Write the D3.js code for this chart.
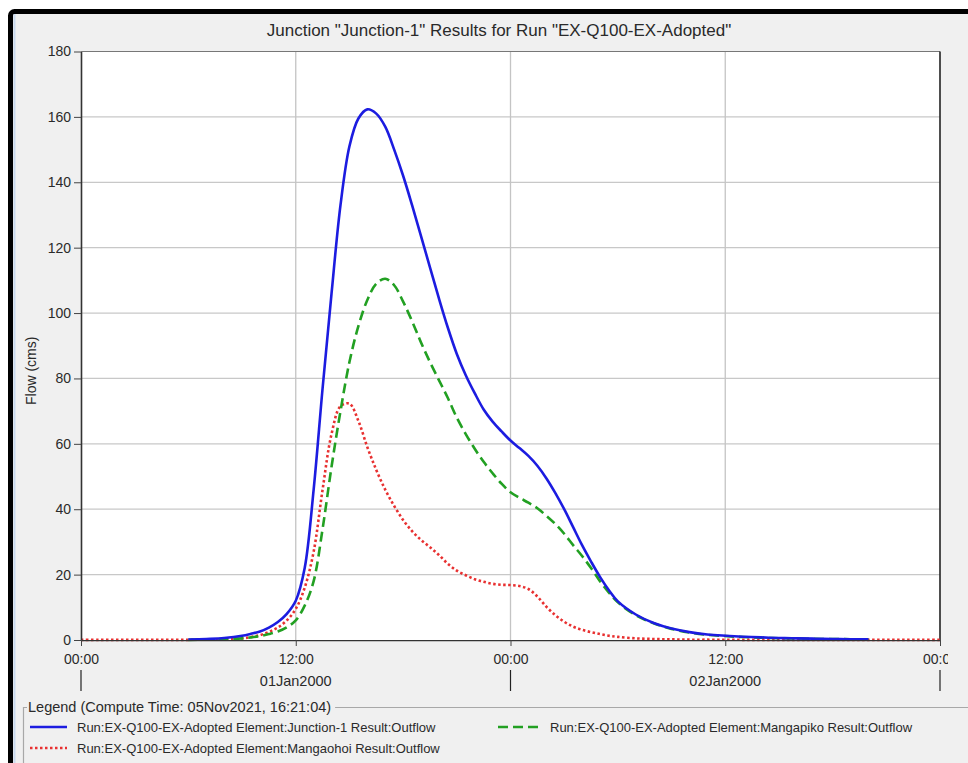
<!DOCTYPE html>
<html>
<head>
<meta charset="utf-8">
<script src="https://cdn.jsdelivr.net/npm/d3@7"></script>
<style>
  body { margin: 0; background: #ffffff; }
  text { font-family: "Liberation Sans", Arial, sans-serif; fill: #2a2a2a; }
</style>
</head>
<body>
<div id="chart"></div>
<script>
// time in hours from 01Jan2000 00:00
var hours = [0, 1, 2, 3, 4, 5, 6, 7, 8, 9,
    9.5, 10, 10.5, 11, 11.5, 12, 12.5, 13, 13.5, 14, 14.5, 15, 15.5, 16, 16.5, 17, 17.5, 18, 18.5, 19,
    19.5, 20, 20.5, 21, 21.5, 22, 22.5, 23, 23.5, 24, 24.5, 25, 25.5, 26, 26.5, 27, 27.5, 28, 28.5, 29, 29.5, 30,
    31, 32, 33, 34, 35, 36, 37, 38, 39, 40, 41, 42, 43, 44, 45, 46, 47, 48];

// Junction-1 outflow (cms)
var junctionFlow = [null, null, null, null, null, null, 0.1, 0.3, 0.6, 1.3,
    1.9, 2.6, 3.8, 5.5, 8, 12, 22, 46, 77, 106, 133, 151, 159.5, 162.3, 161, 157, 150, 142, 133, 123.5,
    114, 104.5, 95.5, 87.5, 81, 75.5, 70.5, 66.8, 63.8, 61, 58.7, 56.3, 53.3, 49.5, 45, 40, 34.5, 29, 24, 19.3, 15.2, 11.8,
    7.8, 5.2, 3.5, 2.4, 1.7, 1.3, 1.0, 0.8, 0.6, 0.5, 0.4, 0.3, 0.25, 0.2, null, null, null, null];

// Mangapiko outflow (cms)
var mangapikoFlow = [null, null, null, null, null, null, 0.05, 0.15, 0.3, 0.5,
    0.8, 1.2, 1.8, 2.6, 3.9, 6, 10.5, 18, 34, 53, 70, 85, 96, 104, 109, 110.5, 108.5, 103.5, 97.5, 91,
    85, 79.5, 74, 68, 63, 58.5, 54.5, 51, 47.8, 45.2, 43.5, 42, 40.3, 38, 35.5, 32.5, 29, 25.7, 22, 18, 14.5, 11.5,
    7.6, 5.1, 3.4, 2.3, 1.6, 1.2, 0.9, 0.7, 0.55, 0.45, 0.35, 0.3, 0.25, 0.2, null, null, null, null];

// Mangaohoi outflow (cms)
var mangaohoiFlow = [0.05, 0.05, 0.05, 0.05, 0.05, 0.05, 0.05, 0.1, 0.2, 0.5,
    0.9, 1.5, 2.5, 3.8, 6, 9.5, 16, 27, 46, 63, 71.5, 72.3, 67, 59, 52, 46, 41, 36.7, 33.3, 30.6,
    28.4, 26, 23.3, 21.2, 19.8, 18.6, 17.8, 17.2, 16.9, 16.8, 16.5, 15.6, 13.3, 10.2, 7.6, 5.6, 4.1, 3.1, 2.4, 1.8, 1.3, 0.95,
    0.5, 0.3, 0.2, 0.1, 0.1, 0.08, 0.05, 0.05, 0.05, 0.05, 0.05, 0.05, 0.05, 0.05, 0.05, 0.05, 0.05, 0.05];

var yTicks = [0, 20, 40, 60, 80, 100, 120, 140, 160, 180];
var xTicks = [0, 12, 24, 36, 48];
var xTickLabels = ["00:00", "12:00", "00:00", "12:00", "00:00"];
var dayCenters = [12, 36];
var dayLabels = ["01Jan2000", "02Jan2000"];
var daySeparators = [0, 24, 48];

var seriesNames = [
    "Run:EX-Q100-EX-Adopted Element:Junction-1 Result:Outflow",
    "Run:EX-Q100-EX-Adopted Element:Mangapiko Result:Outflow",
    "Run:EX-Q100-EX-Adopted Element:Mangaohoi Result:Outflow"
];

var W = 968, H = 763;
var plotLeft = 81, plotRight = 940, plotTop = 51.5, plotBottom = 640;

var svg = d3.select('#chart').append('svg')
    .attr('width', W)
    .attr('height', H);

// window frame
svg.append('rect')
    .attr('x', 10.5).attr('y', 11.5)
    .attr('width', 1000).attr('height', 800)
    .attr('rx', 4)
    .attr('fill', '#f0f0f0')
    .attr('stroke', '#000')
    .attr('stroke-width', 5);
svg.append('line')
    .attr('x1', 14.5).attr('x2', 14.5)
    .attr('y1', 14).attr('y2', H)
    .attr('stroke', '#c9d9ee')
    .attr('stroke-width', 2);

var x = d3.scaleLinear().domain([0, 48]).range([plotLeft, plotRight]);
var y = d3.scaleLinear().domain([0, 180]).range([plotBottom, plotTop]);

// plot background
svg.append('rect')
    .attr('x', plotLeft).attr('y', plotTop)
    .attr('width', plotRight - plotLeft).attr('height', plotBottom - plotTop)
    .attr('fill', '#fff');

// grid
svg.append('g').selectAll('line')
    .data(yTicks.slice(1, -1)).enter()
    .append('line')
    .attr('x1', plotLeft).attr('x2', plotRight)
    .attr('y1', function(d){ return y(d); })
    .attr('y2', function(d){ return y(d); })
    .attr('stroke', '#c8c8c8')
    .attr('stroke-width', 1.3);
svg.append('g').selectAll('line')
    .data(xTicks.slice(1, -1)).enter()
    .append('line')
    .attr('x1', function(d){ return x(d); })
    .attr('x2', function(d){ return x(d); })
    .attr('y1', plotTop).attr('y2', plotBottom)
    .attr('stroke', '#c4c4c4')
    .attr('stroke-width', 1.3);

// plot border
svg.append('line')
    .attr('x1', plotLeft).attr('x2', plotRight).attr('y1', plotTop).attr('y2', plotTop)
    .attr('stroke', '#777').attr('stroke-width', 1.2);
svg.append('line')
    .attr('x1', plotRight).attr('x2', plotRight).attr('y1', plotTop).attr('y2', plotBottom)
    .attr('stroke', '#222').attr('stroke-width', 1.6);

// lines
var points = function(values){
    var pts = [];
    for (var i = 0; i < hours.length; i++){
        pts.push([hours[i], values[i]]);
    }
    return pts;
};
var line = d3.line()
    .defined(function(d){ return d[1] !== null; })
    .x(function(d){ return x(d[0]); })
    .y(function(d){ return Math.min(y(d[1]), plotBottom); })
    .curve(d3.curveCatmullRom.alpha(0.5));

var styles = [
    {color: '#1c1ce0', dash: null},
    {color: '#22a022', dash: '10,5'},
    {color: '#e83030', dash: '2.5,2.5'}
];
var flows = [junctionFlow, mangapikoFlow, mangaohoiFlow];
var drawOrder = [2, 1, 0];

drawOrder.forEach(function(k){
    svg.append('path')
        .datum(points(flows[k]))
        .attr('d', line)
        .attr('fill', 'none')
        .attr('stroke', styles[k].color)
        .attr('stroke-width', 2.6)
        .attr('stroke-dasharray', styles[k].dash);
});

// axes
var yAxis = svg.append('g')
    .attr('transform', 'translate(' + plotLeft + ',0)')
    .call(d3.axisLeft(y).tickValues(yTicks).tickSize(7).tickPadding(3).tickSizeOuter(0));
yAxis.selectAll('text').style('font-size', '14px').attr('fill', '#333');

var xAxis = svg.append('g')
    .attr('transform', 'translate(0,' + plotBottom + ')')
    .call(d3.axisBottom(x).tickValues(xTicks).tickSize(6).tickPadding(8).tickSizeOuter(0)
        .tickFormat(function(d, i){ return xTickLabels[i]; }));
xAxis.selectAll('text').style('font-size', '14px').attr('fill', '#333');

svg.selectAll('.domain').attr('stroke', '#333').attr('stroke-width', 1.6);
svg.selectAll('.tick line').attr('stroke', '#444');

// clip last label like the window does
svg.append('defs').append('clipPath').attr('id', 'labelclip')
    .append('rect').attr('x', 0).attr('y', 0).attr('width', 948).attr('height', H);
xAxis.attr('clip-path', 'url(#labelclip)');

// day row
svg.append('g').selectAll('line')
    .data(daySeparators).enter()
    .append('line')
    .attr('x1', function(d){ return x(d); })
    .attr('x2', function(d){ return x(d); })
    .attr('y1', 670).attr('y2', 691)
    .attr('stroke', '#222')
    .attr('stroke-width', 1.2);
svg.append('g').selectAll('text')
    .data(dayLabels).enter()
    .append('text')
    .attr('x', function(d, i){ return x(dayCenters[i]); })
    .attr('y', 686)
    .attr('text-anchor', 'middle')
    .style('font-size', '14.5px')
    .text(function(d){ return d; });

// title
svg.append('text')
    .attr('x', 499).attr('y', 36)
    .attr('text-anchor', 'middle')
    .style('font-size', '17px')
    .text('Junction "Junction-1" Results for Run "EX-Q100-EX-Adopted"');

// y label
svg.append('text')
    .attr('transform', 'translate(36,405) rotate(-90)')
    .style('font-size', '14px')
    .text('Flow (cms)');

// legend group box
var legendTitle = svg.append('text')
    .attr('x', 28).attr('y', 712)
    .style('font-size', '14.5px')
    .text('Legend (Compute Time: 05Nov2021, 16:21:04)');
var titleEnd = 28 + legendTitle.node().getComputedTextLength() + 4;
svg.append('path')
    .attr('d', 'M27,707.5 H23.5 V' + H + ' M' + titleEnd + ',707.5 H' + W)
    .attr('fill', 'none')
    .attr('stroke', '#a8a8a8')
    .attr('stroke-width', 1.2);

var legendPos = [[30, 727], [498, 727], [30, 748]];
var legendLen = [37, 42, 37];
for (var i = 0; i < seriesNames.length; i++){
    var p = legendPos[i];
    svg.append('line')
        .attr('x1', p[0]).attr('x2', p[0] + legendLen[i])
        .attr('y1', p[1]).attr('y2', p[1])
        .attr('stroke', styles[i].color)
        .attr('stroke-width', 2.6)
        .attr('stroke-dasharray', styles[i].dash);
    svg.append('text')
        .attr('x', p[0] + legendLen[i] + 10)
        .attr('y', p[1] + 4.5)
        .style('font-size', '13px')
        .text(seriesNames[i]);
}
</script>
</body>
</html>
